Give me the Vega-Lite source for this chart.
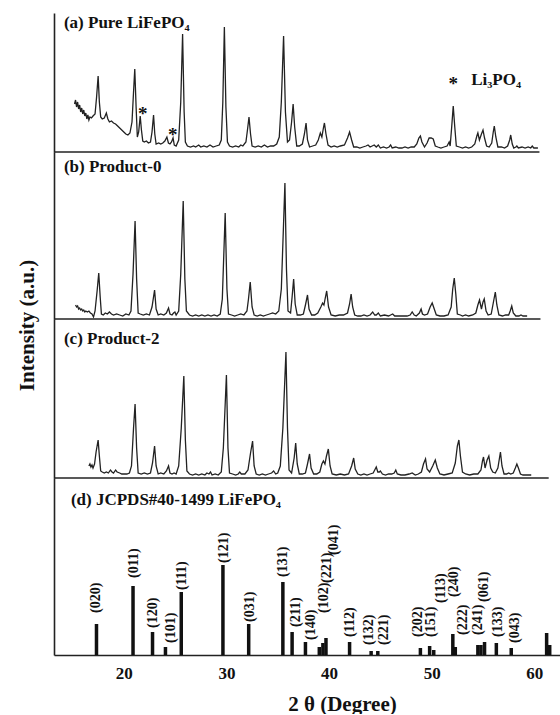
{
  "$schema": "https://vega.github.io/schema/vega-lite/v6.json",
  "background": "white",
  "padding": {"left": 15, "top": 13, "right": 0, "bottom": 0},
  "bounds": "flush",
  "spacing": 0,
  "config": {
    "view": {"stroke": null},
    "font": "Liberation Serif",
    "axis": {"grid": false, "ticks": false, "tickSize": 0, "domainColor": "#222", "domainWidth": 1.6}
  },
  "datasets": {
    "xrd": [
      {"s":"a","t":15.2,"i":48},{"s":"a","t":15.3,"i":52},{"s":"a","t":15.4,"i":45},{"s":"a","t":15.5,"i":50},{"s":"a","t":15.6,"i":43},{"s":"a","t":15.7,"i":47},{"s":"a","t":15.8,"i":40},{"s":"a","t":15.9,"i":44},{"s":"a","t":16.0,"i":38},{"s":"a","t":16.1,"i":42},{"s":"a","t":16.2,"i":36},{"s":"a","t":16.3,"i":39},{"s":"a","t":16.4,"i":33},{"s":"a","t":16.5,"i":37},{"s":"a","t":16.6,"i":32},{"s":"a","t":16.7,"i":35},{"s":"a","t":16.85,"i":34},{"s":"a","t":17.0,"i":36},{"s":"a","t":17.2,"i":38},{"s":"a","t":17.35,"i":55},{"s":"a","t":17.5,"i":76},{"s":"a","t":17.62,"i":50},{"s":"a","t":17.75,"i":35},{"s":"a","t":17.9,"i":33},{"s":"a","t":18.1,"i":34},{"s":"a","t":18.3,"i":39},{"s":"a","t":18.45,"i":33},{"s":"a","t":18.6,"i":30},{"s":"a","t":18.8,"i":31},{"s":"a","t":19.0,"i":29},{"s":"a","t":19.2,"i":28},{"s":"a","t":19.4,"i":26},{"s":"a","t":19.6,"i":24},{"s":"a","t":19.8,"i":22},{"s":"a","t":20.0,"i":20},{"s":"a","t":20.2,"i":18},{"s":"a","t":20.4,"i":17},{"s":"a","t":20.6,"i":19},{"s":"a","t":20.8,"i":30},{"s":"a","t":20.95,"i":60},{"s":"a","t":21.07,"i":83},{"s":"a","t":21.2,"i":45},{"s":"a","t":21.32,"i":15},{"s":"a","t":21.45,"i":20},{"s":"a","t":21.6,"i":36},{"s":"a","t":21.72,"i":22},{"s":"a","t":21.85,"i":11},{"s":"a","t":22.0,"i":10},{"s":"a","t":22.2,"i":11},{"s":"a","t":22.4,"i":9},{"s":"a","t":22.6,"i":10},{"s":"a","t":22.75,"i":20},{"s":"a","t":22.9,"i":37},{"s":"a","t":23.02,"i":18},{"s":"a","t":23.15,"i":8},{"s":"a","t":23.4,"i":9},{"s":"a","t":23.6,"i":8},{"s":"a","t":23.8,"i":9},{"s":"a","t":24.0,"i":11},{"s":"a","t":24.2,"i":15},{"s":"a","t":24.35,"i":9},{"s":"a","t":24.5,"i":8},{"s":"a","t":24.65,"i":10},{"s":"a","t":24.8,"i":14},{"s":"a","t":24.92,"i":7},{"s":"a","t":25.1,"i":6},{"s":"a","t":25.35,"i":12},{"s":"a","t":25.55,"i":50},{"s":"a","t":25.73,"i":118},{"s":"a","t":25.88,"i":40},{"s":"a","t":26.0,"i":10},{"s":"a","t":26.2,"i":6},{"s":"a","t":26.5,"i":5},{"s":"a","t":26.8,"i":6},{"s":"a","t":27.0,"i":5},{"s":"a","t":27.3,"i":7},{"s":"a","t":27.5,"i":5},{"s":"a","t":27.8,"i":6},{"s":"a","t":28.1,"i":5},{"s":"a","t":28.4,"i":7},{"s":"a","t":28.7,"i":5},{"s":"a","t":29.0,"i":6},{"s":"a","t":29.3,"i":7},{"s":"a","t":29.5,"i":12},{"s":"a","t":29.65,"i":50},{"s":"a","t":29.8,"i":125},{"s":"a","t":29.95,"i":45},{"s":"a","t":30.1,"i":10},{"s":"a","t":30.3,"i":6},{"s":"a","t":30.6,"i":5},{"s":"a","t":30.9,"i":6},{"s":"a","t":31.2,"i":5},{"s":"a","t":31.4,"i":7},{"s":"a","t":31.6,"i":6},{"s":"a","t":31.9,"i":10},{"s":"a","t":32.05,"i":22},{"s":"a","t":32.2,"i":35},{"s":"a","t":32.35,"i":18},{"s":"a","t":32.5,"i":6},{"s":"a","t":32.8,"i":5},{"s":"a","t":33.1,"i":6},{"s":"a","t":33.4,"i":5},{"s":"a","t":33.7,"i":7},{"s":"a","t":34.0,"i":5},{"s":"a","t":34.3,"i":6},{"s":"a","t":34.6,"i":6},{"s":"a","t":34.9,"i":8},{"s":"a","t":35.15,"i":15},{"s":"a","t":35.35,"i":50},{"s":"a","t":35.57,"i":116},{"s":"a","t":35.75,"i":40},{"s":"a","t":35.95,"i":10},{"s":"a","t":36.15,"i":12},{"s":"a","t":36.35,"i":30},{"s":"a","t":36.5,"i":48},{"s":"a","t":36.65,"i":25},{"s":"a","t":36.85,"i":6},{"s":"a","t":37.1,"i":6},{"s":"a","t":37.4,"i":8},{"s":"a","t":37.6,"i":18},{"s":"a","t":37.76,"i":29},{"s":"a","t":37.9,"i":12},{"s":"a","t":38.1,"i":5},{"s":"a","t":38.4,"i":6},{"s":"a","t":38.7,"i":7},{"s":"a","t":38.95,"i":12},{"s":"a","t":39.15,"i":19},{"s":"a","t":39.3,"i":15},{"s":"a","t":39.45,"i":24},{"s":"a","t":39.55,"i":29},{"s":"a","t":39.7,"i":18},{"s":"a","t":39.9,"i":7},{"s":"a","t":40.2,"i":5},{"s":"a","t":40.5,"i":6},{"s":"a","t":40.8,"i":5},{"s":"a","t":41.1,"i":6},{"s":"a","t":41.5,"i":7},{"s":"a","t":41.8,"i":14},{"s":"a","t":42.0,"i":20},{"s":"a","t":42.2,"i":12},{"s":"a","t":42.4,"i":5},{"s":"a","t":42.7,"i":5},{"s":"a","t":43.0,"i":4},{"s":"a","t":43.3,"i":5},{"s":"a","t":43.6,"i":6},{"s":"a","t":43.8,"i":7},{"s":"a","t":44.0,"i":5},{"s":"a","t":44.2,"i":6},{"s":"a","t":44.4,"i":7},{"s":"a","t":44.6,"i":5},{"s":"a","t":44.8,"i":7},{"s":"a","t":45.0,"i":4},{"s":"a","t":45.3,"i":5},{"s":"a","t":45.6,"i":4},{"s":"a","t":45.85,"i":5},{"s":"a","t":46.0,"i":7},{"s":"a","t":46.15,"i":4},{"s":"a","t":46.5,"i":5},{"s":"a","t":46.8,"i":4},{"s":"a","t":47.1,"i":4},{"s":"a","t":47.4,"i":5},{"s":"a","t":47.7,"i":4},{"s":"a","t":48.0,"i":5},{"s":"a","t":48.3,"i":5},{"s":"a","t":48.55,"i":8},{"s":"a","t":48.75,"i":14},{"s":"a","t":48.9,"i":16},{"s":"a","t":49.05,"i":10},{"s":"a","t":49.3,"i":5},{"s":"a","t":49.55,"i":9},{"s":"a","t":49.75,"i":14},{"s":"a","t":49.95,"i":14},{"s":"a","t":50.15,"i":13},{"s":"a","t":50.35,"i":6},{"s":"a","t":50.6,"i":5},{"s":"a","t":50.9,"i":4},{"s":"a","t":51.2,"i":5},{"s":"a","t":51.5,"i":6},{"s":"a","t":51.7,"i":10},{"s":"a","t":51.8,"i":6},{"s":"a","t":51.95,"i":25},{"s":"a","t":52.1,"i":46},{"s":"a","t":52.25,"i":25},{"s":"a","t":52.4,"i":6},{"s":"a","t":52.7,"i":5},{"s":"a","t":53.0,"i":4},{"s":"a","t":53.3,"i":5},{"s":"a","t":53.6,"i":4},{"s":"a","t":53.9,"i":5},{"s":"a","t":54.2,"i":8},{"s":"a","t":54.4,"i":16},{"s":"a","t":54.5,"i":19},{"s":"a","t":54.65,"i":12},{"s":"a","t":54.85,"i":18},{"s":"a","t":55.0,"i":22},{"s":"a","t":55.15,"i":14},{"s":"a","t":55.35,"i":6},{"s":"a","t":55.6,"i":5},{"s":"a","t":55.85,"i":9},{"s":"a","t":56.0,"i":20},{"s":"a","t":56.1,"i":26},{"s":"a","t":56.25,"i":15},{"s":"a","t":56.45,"i":5},{"s":"a","t":56.8,"i":5},{"s":"a","t":57.1,"i":4},{"s":"a","t":57.4,"i":6},{"s":"a","t":57.6,"i":12},{"s":"a","t":57.7,"i":17},{"s":"a","t":57.85,"i":8},{"s":"a","t":58.0,"i":4},{"s":"a","t":58.2,"i":5},{"s":"a","t":58.3,"i":6},{"s":"a","t":58.45,"i":4},{"s":"a","t":58.8,"i":5},{"s":"a","t":59.1,"i":4},{"s":"a","t":59.4,"i":5},{"s":"a","t":59.65,"i":4},{"s":"a","t":59.8,"i":6},{"s":"a","t":59.95,"i":4},{"s":"a","t":60.2,"i":4},{"s":"a","t":60.35,"i":4},

      {"s":"b","t":15.3,"i":14},{"s":"b","t":15.4,"i":12},{"s":"b","t":15.5,"i":13},{"s":"b","t":15.6,"i":10},{"s":"b","t":15.7,"i":11},{"s":"b","t":15.8,"i":9},{"s":"b","t":15.9,"i":10},{"s":"b","t":16.0,"i":8},{"s":"b","t":16.1,"i":9},{"s":"b","t":16.2,"i":7},{"s":"b","t":16.3,"i":8},{"s":"b","t":16.45,"i":7},{"s":"b","t":16.6,"i":8},{"s":"b","t":16.75,"i":6},{"s":"b","t":16.9,"i":5},{"s":"b","t":17.05,"i":2},{"s":"b","t":17.2,"i":8},{"s":"b","t":17.4,"i":28},{"s":"b","t":17.56,"i":46},{"s":"b","t":17.7,"i":22},{"s":"b","t":17.82,"i":5},{"s":"b","t":18.0,"i":4},{"s":"b","t":18.2,"i":6},{"s":"b","t":18.4,"i":5},{"s":"b","t":18.6,"i":7},{"s":"b","t":18.8,"i":5},{"s":"b","t":19.0,"i":4},{"s":"b","t":19.3,"i":5},{"s":"b","t":19.6,"i":4},{"s":"b","t":19.9,"i":3},{"s":"b","t":20.2,"i":5},{"s":"b","t":20.5,"i":4},{"s":"b","t":20.7,"i":8},{"s":"b","t":20.9,"i":45},{"s":"b","t":21.1,"i":98},{"s":"b","t":21.25,"i":40},{"s":"b","t":21.4,"i":6},{"s":"b","t":21.6,"i":5},{"s":"b","t":21.9,"i":4},{"s":"b","t":22.2,"i":5},{"s":"b","t":22.5,"i":4},{"s":"b","t":22.75,"i":12},{"s":"b","t":23.0,"i":29},{"s":"b","t":23.15,"i":10},{"s":"b","t":23.35,"i":4},{"s":"b","t":23.6,"i":5},{"s":"b","t":23.9,"i":4},{"s":"b","t":24.15,"i":6},{"s":"b","t":24.36,"i":11},{"s":"b","t":24.5,"i":5},{"s":"b","t":24.7,"i":4},{"s":"b","t":24.85,"i":6},{"s":"b","t":24.98,"i":7},{"s":"b","t":25.1,"i":4},{"s":"b","t":25.35,"i":8},{"s":"b","t":25.55,"i":45},{"s":"b","t":25.79,"i":118},{"s":"b","t":25.95,"i":40},{"s":"b","t":26.1,"i":8},{"s":"b","t":26.4,"i":4},{"s":"b","t":26.7,"i":3},{"s":"b","t":27.0,"i":4},{"s":"b","t":27.3,"i":3},{"s":"b","t":27.6,"i":4},{"s":"b","t":27.9,"i":3},{"s":"b","t":28.2,"i":4},{"s":"b","t":28.5,"i":3},{"s":"b","t":28.8,"i":4},{"s":"b","t":29.1,"i":3},{"s":"b","t":29.4,"i":5},{"s":"b","t":29.6,"i":20},{"s":"b","t":29.88,"i":106},{"s":"b","t":30.05,"i":30},{"s":"b","t":30.2,"i":5},{"s":"b","t":30.5,"i":4},{"s":"b","t":30.8,"i":3},{"s":"b","t":31.1,"i":4},{"s":"b","t":31.4,"i":5},{"s":"b","t":31.7,"i":4},{"s":"b","t":32.0,"i":8},{"s":"b","t":32.15,"i":20},{"s":"b","t":32.32,"i":37},{"s":"b","t":32.5,"i":12},{"s":"b","t":32.7,"i":4},{"s":"b","t":33.0,"i":3},{"s":"b","t":33.3,"i":4},{"s":"b","t":33.6,"i":3},{"s":"b","t":33.9,"i":4},{"s":"b","t":34.2,"i":5},{"s":"b","t":34.5,"i":6},{"s":"b","t":34.8,"i":5},{"s":"b","t":35.1,"i":8},{"s":"b","t":35.35,"i":30},{"s":"b","t":35.55,"i":90},{"s":"b","t":35.7,"i":136},{"s":"b","t":35.85,"i":50},{"s":"b","t":36.0,"i":8},{"s":"b","t":36.25,"i":6},{"s":"b","t":36.4,"i":22},{"s":"b","t":36.55,"i":40},{"s":"b","t":36.7,"i":15},{"s":"b","t":36.9,"i":4},{"s":"b","t":37.2,"i":4},{"s":"b","t":37.5,"i":5},{"s":"b","t":37.7,"i":14},{"s":"b","t":37.9,"i":24},{"s":"b","t":38.05,"i":10},{"s":"b","t":38.3,"i":4},{"s":"b","t":38.6,"i":4},{"s":"b","t":38.9,"i":6},{"s":"b","t":39.2,"i":12},{"s":"b","t":39.37,"i":16},{"s":"b","t":39.5,"i":14},{"s":"b","t":39.65,"i":22},{"s":"b","t":39.77,"i":28},{"s":"b","t":39.95,"i":12},{"s":"b","t":40.2,"i":4},{"s":"b","t":40.6,"i":3},{"s":"b","t":41.0,"i":4},{"s":"b","t":41.4,"i":4},{"s":"b","t":41.8,"i":6},{"s":"b","t":42.0,"i":15},{"s":"b","t":42.15,"i":25},{"s":"b","t":42.3,"i":12},{"s":"b","t":42.5,"i":4},{"s":"b","t":42.8,"i":3},{"s":"b","t":43.1,"i":3},{"s":"b","t":43.4,"i":4},{"s":"b","t":43.7,"i":3},{"s":"b","t":44.0,"i":4},{"s":"b","t":44.25,"i":7},{"s":"b","t":44.45,"i":4},{"s":"b","t":44.6,"i":4},{"s":"b","t":44.8,"i":6},{"s":"b","t":45.0,"i":3},{"s":"b","t":45.4,"i":4},{"s":"b","t":45.8,"i":3},{"s":"b","t":46.0,"i":4},{"s":"b","t":46.2,"i":5},{"s":"b","t":46.4,"i":3},{"s":"b","t":46.8,"i":3},{"s":"b","t":47.2,"i":3},{"s":"b","t":47.6,"i":3},{"s":"b","t":47.9,"i":4},{"s":"b","t":48.1,"i":7},{"s":"b","t":48.3,"i":4},{"s":"b","t":48.5,"i":3},{"s":"b","t":48.8,"i":6},{"s":"b","t":48.97,"i":10},{"s":"b","t":49.1,"i":5},{"s":"b","t":49.3,"i":4},{"s":"b","t":49.6,"i":5},{"s":"b","t":49.85,"i":12},{"s":"b","t":50.05,"i":16},{"s":"b","t":50.25,"i":10},{"s":"b","t":50.45,"i":4},{"s":"b","t":50.8,"i":3},{"s":"b","t":51.2,"i":3},{"s":"b","t":51.6,"i":4},{"s":"b","t":51.9,"i":12},{"s":"b","t":52.05,"i":30},{"s":"b","t":52.2,"i":41},{"s":"b","t":52.35,"i":25},{"s":"b","t":52.5,"i":5},{"s":"b","t":52.8,"i":4},{"s":"b","t":53.0,"i":3},{"s":"b","t":53.3,"i":4},{"s":"b","t":53.6,"i":3},{"s":"b","t":54.0,"i":4},{"s":"b","t":54.3,"i":6},{"s":"b","t":54.5,"i":14},{"s":"b","t":54.66,"i":19},{"s":"b","t":54.85,"i":10},{"s":"b","t":55.0,"i":17},{"s":"b","t":55.12,"i":20},{"s":"b","t":55.3,"i":8},{"s":"b","t":55.5,"i":4},{"s":"b","t":55.8,"i":5},{"s":"b","t":56.0,"i":16},{"s":"b","t":56.2,"i":27},{"s":"b","t":56.35,"i":14},{"s":"b","t":56.55,"i":4},{"s":"b","t":56.9,"i":3},{"s":"b","t":57.2,"i":4},{"s":"b","t":57.5,"i":4},{"s":"b","t":57.65,"i":8},{"s":"b","t":57.8,"i":13},{"s":"b","t":57.95,"i":6},{"s":"b","t":58.2,"i":3},{"s":"b","t":58.5,"i":3},{"s":"b","t":58.7,"i":4},{"s":"b","t":58.9,"i":3},{"s":"b","t":59.1,"i":3},{"s":"b","t":59.3,"i":3},

      {"s":"c","t":16.6,"i":12},{"s":"c","t":16.7,"i":14},{"s":"c","t":16.8,"i":11},{"s":"c","t":16.9,"i":13},{"s":"c","t":17.0,"i":10},{"s":"c","t":17.15,"i":14},{"s":"c","t":17.3,"i":26},{"s":"c","t":17.5,"i":38},{"s":"c","t":17.62,"i":22},{"s":"c","t":17.75,"i":7},{"s":"c","t":17.9,"i":6},{"s":"c","t":18.1,"i":5},{"s":"c","t":18.3,"i":6},{"s":"c","t":18.5,"i":5},{"s":"c","t":18.7,"i":8},{"s":"c","t":18.85,"i":6},{"s":"c","t":19.0,"i":5},{"s":"c","t":19.2,"i":8},{"s":"c","t":19.35,"i":6},{"s":"c","t":19.6,"i":5},{"s":"c","t":19.8,"i":4},{"s":"c","t":20.0,"i":4},{"s":"c","t":20.3,"i":4},{"s":"c","t":20.55,"i":5},{"s":"c","t":20.75,"i":12},{"s":"c","t":20.95,"i":50},{"s":"c","t":21.1,"i":74},{"s":"c","t":21.25,"i":30},{"s":"c","t":21.4,"i":5},{"s":"c","t":21.7,"i":4},{"s":"c","t":22.0,"i":5},{"s":"c","t":22.3,"i":4},{"s":"c","t":22.6,"i":5},{"s":"c","t":22.8,"i":15},{"s":"c","t":23.0,"i":32},{"s":"c","t":23.15,"i":12},{"s":"c","t":23.35,"i":4},{"s":"c","t":23.6,"i":5},{"s":"c","t":23.9,"i":4},{"s":"c","t":24.15,"i":7},{"s":"c","t":24.36,"i":12},{"s":"c","t":24.5,"i":5},{"s":"c","t":24.7,"i":4},{"s":"c","t":24.9,"i":5},{"s":"c","t":25.1,"i":4},{"s":"c","t":25.35,"i":12},{"s":"c","t":25.6,"i":50},{"s":"c","t":25.85,"i":102},{"s":"c","t":26.0,"i":38},{"s":"c","t":26.15,"i":7},{"s":"c","t":26.4,"i":4},{"s":"c","t":26.7,"i":3},{"s":"c","t":27.0,"i":4},{"s":"c","t":27.3,"i":3},{"s":"c","t":27.6,"i":4},{"s":"c","t":27.9,"i":3},{"s":"c","t":28.1,"i":5},{"s":"c","t":28.3,"i":4},{"s":"c","t":28.45,"i":6},{"s":"c","t":28.6,"i":3},{"s":"c","t":28.9,"i":4},{"s":"c","t":29.2,"i":3},{"s":"c","t":29.5,"i":6},{"s":"c","t":29.7,"i":30},{"s":"c","t":30.0,"i":103},{"s":"c","t":30.15,"i":30},{"s":"c","t":30.3,"i":5},{"s":"c","t":30.6,"i":4},{"s":"c","t":30.9,"i":3},{"s":"c","t":31.15,"i":4},{"s":"c","t":31.3,"i":6},{"s":"c","t":31.45,"i":4},{"s":"c","t":31.8,"i":4},{"s":"c","t":32.1,"i":8},{"s":"c","t":32.35,"i":25},{"s":"c","t":32.55,"i":37},{"s":"c","t":32.7,"i":12},{"s":"c","t":32.9,"i":4},{"s":"c","t":33.2,"i":3},{"s":"c","t":33.5,"i":4},{"s":"c","t":33.8,"i":3},{"s":"c","t":34.1,"i":4},{"s":"c","t":34.4,"i":5},{"s":"c","t":34.6,"i":7},{"s":"c","t":34.8,"i":4},{"s":"c","t":35.0,"i":5},{"s":"c","t":35.25,"i":12},{"s":"c","t":35.5,"i":50},{"s":"c","t":35.8,"i":126},{"s":"c","t":35.95,"i":50},{"s":"c","t":36.1,"i":8},{"s":"c","t":36.35,"i":5},{"s":"c","t":36.6,"i":20},{"s":"c","t":36.75,"i":35},{"s":"c","t":36.9,"i":14},{"s":"c","t":37.1,"i":4},{"s":"c","t":37.4,"i":4},{"s":"c","t":37.7,"i":5},{"s":"c","t":37.9,"i":14},{"s":"c","t":38.1,"i":24},{"s":"c","t":38.25,"i":10},{"s":"c","t":38.5,"i":4},{"s":"c","t":38.8,"i":4},{"s":"c","t":39.1,"i":6},{"s":"c","t":39.3,"i":14},{"s":"c","t":39.45,"i":17},{"s":"c","t":39.6,"i":14},{"s":"c","t":39.75,"i":22},{"s":"c","t":39.93,"i":29},{"s":"c","t":40.1,"i":12},{"s":"c","t":40.3,"i":4},{"s":"c","t":40.7,"i":3},{"s":"c","t":41.1,"i":4},{"s":"c","t":41.5,"i":3},{"s":"c","t":41.9,"i":4},{"s":"c","t":42.2,"i":12},{"s":"c","t":42.4,"i":20},{"s":"c","t":42.55,"i":9},{"s":"c","t":42.8,"i":4},{"s":"c","t":43.1,"i":3},{"s":"c","t":43.4,"i":4},{"s":"c","t":43.7,"i":3},{"s":"c","t":44.0,"i":4},{"s":"c","t":44.3,"i":5},{"s":"c","t":44.5,"i":9},{"s":"c","t":44.6,"i":11},{"s":"c","t":44.75,"i":6},{"s":"c","t":44.9,"i":6},{"s":"c","t":45.0,"i":7},{"s":"c","t":45.2,"i":4},{"s":"c","t":45.5,"i":3},{"s":"c","t":45.8,"i":4},{"s":"c","t":46.1,"i":4},{"s":"c","t":46.35,"i":5},{"s":"c","t":46.5,"i":8},{"s":"c","t":46.65,"i":4},{"s":"c","t":47.0,"i":3},{"s":"c","t":47.4,"i":3},{"s":"c","t":47.8,"i":4},{"s":"c","t":48.1,"i":5},{"s":"c","t":48.4,"i":3},{"s":"c","t":48.7,"i":4},{"s":"c","t":49.0,"i":6},{"s":"c","t":49.2,"i":14},{"s":"c","t":49.4,"i":19},{"s":"c","t":49.55,"i":9},{"s":"c","t":49.8,"i":6},{"s":"c","t":50.1,"i":12},{"s":"c","t":50.35,"i":18},{"s":"c","t":50.55,"i":10},{"s":"c","t":50.8,"i":4},{"s":"c","t":51.2,"i":3},{"s":"c","t":51.6,"i":4},{"s":"c","t":52.0,"i":5},{"s":"c","t":52.3,"i":15},{"s":"c","t":52.5,"i":32},{"s":"c","t":52.65,"i":38},{"s":"c","t":52.8,"i":22},{"s":"c","t":53.0,"i":6},{"s":"c","t":53.3,"i":4},{"s":"c","t":53.7,"i":3},{"s":"c","t":54.1,"i":4},{"s":"c","t":54.5,"i":4},{"s":"c","t":54.8,"i":8},{"s":"c","t":54.95,"i":17},{"s":"c","t":55.05,"i":21},{"s":"c","t":55.2,"i":10},{"s":"c","t":55.4,"i":18},{"s":"c","t":55.57,"i":22},{"s":"c","t":55.75,"i":10},{"s":"c","t":55.95,"i":6},{"s":"c","t":56.2,"i":5},{"s":"c","t":56.45,"i":10},{"s":"c","t":56.7,"i":26},{"s":"c","t":56.85,"i":12},{"s":"c","t":57.05,"i":4},{"s":"c","t":57.3,"i":4},{"s":"c","t":57.5,"i":5},{"s":"c","t":57.7,"i":4},{"s":"c","t":57.95,"i":5},{"s":"c","t":58.15,"i":10},{"s":"c","t":58.3,"i":14},{"s":"c","t":58.45,"i":10},{"s":"c","t":58.65,"i":4},{"s":"c","t":58.9,"i":3},{"s":"c","t":59.2,"i":3},{"s":"c","t":59.5,"i":3},{"s":"c","t":59.7,"i":3}
    ],
    "ref": [
      {"t":17.34,"h":31},{"t":20.9,"h":69},{"t":22.8,"h":23},{"t":24.06,"h":8},{"t":25.6,"h":63},{"t":29.66,"h":90},{"t":32.17,"h":31},{"t":35.5,"h":73},{"t":36.4,"h":23},{"t":37.7,"h":13},{"t":39.05,"h":8},{"t":39.4,"h":12},{"t":39.7,"h":17},{"t":42.0,"h":13},{"t":44.1,"h":4},{"t":44.75,"h":4},{"t":48.9,"h":7},{"t":49.8,"h":9},{"t":50.2,"h":5},{"t":52.06,"h":21},{"t":52.3,"h":8},{"t":54.5,"h":10},{"t":54.8,"h":10},{"t":55.15,"h":13},{"t":56.3,"h":12},{"t":57.75,"h":7},{"t":61.2,"h":22},{"t":61.5,"h":10}
    ],
    "hkl": [
      {"k":"(020)","t":17.33,"h":42},{"k":"(011)","t":20.95,"h":77},{"k":"(120)","t":22.8,"h":27},{"k":"(101)","t":24.59,"h":12},{"k":"(111)","t":25.72,"h":65},{"k":"(121)","t":29.72,"h":92},{"k":"(031)","t":32.31,"h":33},{"k":"(131)","t":35.5,"h":78},{"k":"(211)","t":36.78,"h":28},{"k":"(140)","t":38.24,"h":15},{"k":"(102)","t":39.5,"h":42},{"k":"(221)","t":39.8,"h":72},{"k":"(041)","t":40.49,"h":100},{"k":"(112)","t":42.08,"h":18},{"k":"(132)","t":43.93,"h":10},{"k":"(221)","t":45.4,"h":10},{"k":"(202)","t":48.64,"h":18},{"k":"(151)","t":49.95,"h":18},{"k":"(113)","t":50.93,"h":52},{"k":"(240)","t":52.22,"h":58},{"k":"(222)","t":53.03,"h":20},{"k":"(241)","t":54.5,"h":20},{"k":"(061)","t":55.08,"h":53},{"k":"(133)","t":56.45,"h":18},{"k":"(043)","t":58.07,"h":12}
    ],
    "stars": [
      {"t":21.85,"i":42,"k":"*"},{"t":24.78,"i":21,"k":"*"},{"t":52.1,"i":72,"k":"*"}
    ]
  },
  "vconcat": [
    {
      "width": 507, "height": 139,
      "layer": [
        {"data": {"name": "xrd"}, "transform": [{"filter": "datum.s === 'a'"}],
         "mark": {"type": "line", "color": "#222", "strokeWidth": 1.3},
         "encoding": {
           "x": {"field": "t", "type": "quantitative", "scale": {"domain": [13.2, 62.6], "nice": false, "zero": false}, "axis": null},
           "y": {"field": "i", "type": "quantitative", "scale": {"domain": [0, 139], "nice": false, "zero": false},
                 "axis": {"title": null, "labels": false, "domain": true}}
         }},
        {"data": {"values": [{}]}, "mark": {"type": "rule", "color": "#222", "strokeWidth": 1.6},
         "encoding": {"x": {"datum": 13.2}, "x2": {"datum": 60.5}, "y": {"datum": 0}}},
        {"data": {"name": "stars"}, "mark": {"type": "text", "font": "Liberation Serif", "fontWeight": "bold", "fontSize": 19, "align": "center", "baseline": "middle", "dy": 4, "color": "#111"},
         "encoding": {"x": {"field": "t", "type": "quantitative"}, "y": {"field": "i", "type": "quantitative"}, "text": {"field": "k"}}},
        {"data": {"values": [{"t": 14.17, "i": 129, "k": "(a) Pure LiFePO₄"}, {"t": 53.85, "i": 72, "k": "Li₃PO₄"}]},
         "mark": {"type": "text", "font": "Liberation Serif", "fontWeight": "bold", "fontSize": 17, "align": "left", "baseline": "middle", "color": "#111"},
         "encoding": {"x": {"field": "t", "type": "quantitative"}, "y": {"field": "i", "type": "quantitative"}, "text": {"field": "k"}}}
      ]
    },
    {
      "width": 507, "height": 167,
      "layer": [
        {"data": {"name": "xrd"}, "transform": [{"filter": "datum.s === 'b'"}],
         "mark": {"type": "line", "color": "#222", "strokeWidth": 1.3},
         "encoding": {
           "x": {"field": "t", "type": "quantitative", "scale": {"domain": [13.2, 62.6], "nice": false, "zero": false}, "axis": null},
           "y": {"field": "i", "type": "quantitative", "scale": {"domain": [0, 167], "nice": false, "zero": false},
                 "axis": {"title": null, "labels": false, "domain": true}}
         }},
        {"data": {"values": [{}]}, "mark": {"type": "rule", "color": "#222", "strokeWidth": 1.6},
         "encoding": {"x": {"datum": 13.2}, "x2": {"datum": 60.6}, "y": {"datum": 0}}},
        {"data": {"values": [{"t": 14.17, "i": 152, "k": "(b) Product-0"}]},
         "mark": {"type": "text", "font": "Liberation Serif", "fontWeight": "bold", "fontSize": 17, "align": "left", "baseline": "middle", "color": "#111"},
         "encoding": {"x": {"field": "t", "type": "quantitative"}, "y": {"field": "i", "type": "quantitative"}, "text": {"field": "k"}}}
      ]
    },
    {
      "width": 507, "height": 159,
      "layer": [
        {"data": {"name": "xrd"}, "transform": [{"filter": "datum.s === 'c'"}],
         "mark": {"type": "line", "color": "#222", "strokeWidth": 1.3},
         "encoding": {
           "x": {"field": "t", "type": "quantitative", "scale": {"domain": [13.2, 62.6], "nice": false, "zero": false}, "axis": null},
           "y": {"field": "i", "type": "quantitative", "scale": {"domain": [0, 159], "nice": false, "zero": false},
                 "axis": {"title": "Intensity (a.u.)", "labels": false, "domain": true,
                          "titleFont": "Liberation Serif", "titleFontWeight": "bold", "titleFontSize": 21, "titleColor": "#111",
                          "titleX": -21, "titleY": 6, "titleAngle": 270, "titleAlign": "center", "titleBaseline": "alphabetic"}}
         }},
        {"data": {"values": [{}]}, "mark": {"type": "rule", "color": "#222", "strokeWidth": 1.6},
         "encoding": {"x": {"datum": 13.2}, "x2": {"datum": 61.4}, "y": {"datum": 0}}},
        {"data": {"values": [{"t": 14.17, "i": 139, "k": "(c) Product-2"}]},
         "mark": {"type": "text", "font": "Liberation Serif", "fontWeight": "bold", "fontSize": 17, "align": "left", "baseline": "middle", "color": "#111"},
         "encoding": {"x": {"field": "t", "type": "quantitative"}, "y": {"field": "i", "type": "quantitative"}, "text": {"field": "k"}}}
      ]
    },
    {
      "width": 507, "height": 177,
      "layer": [
        {"data": {"name": "ref"},
         "mark": {"type": "rule", "color": "#111", "strokeWidth": 3.5},
         "encoding": {
           "x": {"field": "t", "type": "quantitative", "scale": {"domain": [13.2, 62.6], "nice": false, "zero": false},
                 "axis": {"values": [20, 30, 40, 50, 60], "labelFont": "Liberation Serif", "labelFontWeight": "bold", "labelFontSize": 17, "labelColor": "#111", "labelPadding": 10,
                          "title": "2 θ (Degree)", "titleFont": "Liberation Serif", "titleFontWeight": "bold", "titleFontSize": 21, "titleColor": "#111",
                          "titleX": 288, "titleY": 55, "titleAlign": "center", "titleBaseline": "alphabetic"}},
           "y": {"field": "h", "type": "quantitative", "scale": {"domain": [0, 177], "nice": false, "zero": false},
                 "axis": {"title": null, "labels": false, "domain": true}},
           "y2": {"datum": 0}
         }},
        {"data": {"name": "hkl"},
         "mark": {"type": "text", "font": "Liberation Serif", "fontWeight": "bold", "fontSize": 14, "angle": 270, "align": "left", "baseline": "middle", "color": "#111"},
         "encoding": {"x": {"field": "t", "type": "quantitative"}, "y": {"field": "h", "type": "quantitative"}, "text": {"field": "k"}}},
        {"data": {"values": [{"t": 14.85, "h": 155, "k": "(d) JCPDS#40-1499 LiFePO₄"}]},
         "mark": {"type": "text", "font": "Liberation Serif", "fontWeight": "bold", "fontSize": 17, "align": "left", "baseline": "middle", "color": "#111"},
         "encoding": {"x": {"field": "t", "type": "quantitative"}, "y": {"field": "h", "type": "quantitative"}, "text": {"field": "k"}}}
      ]
    }
  ]
}
